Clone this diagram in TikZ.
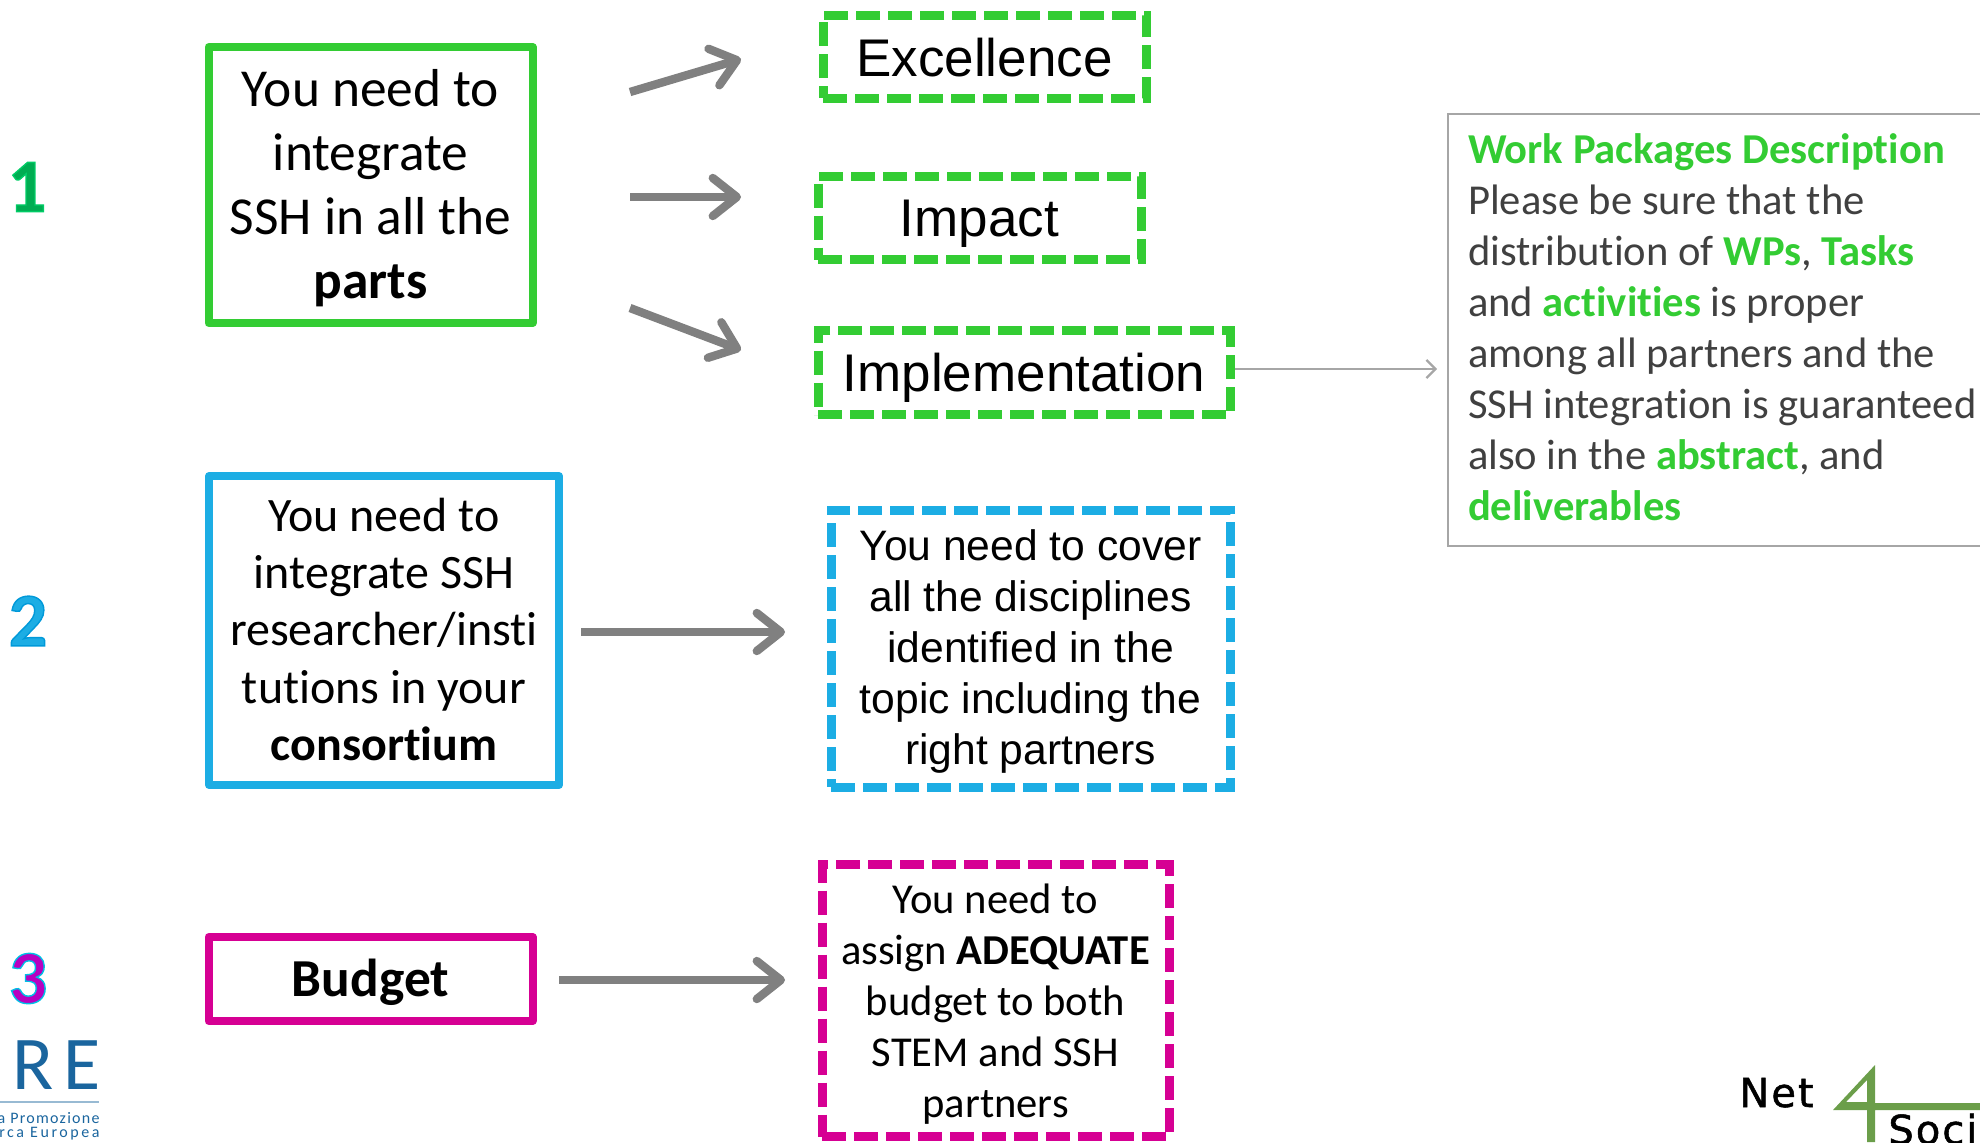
\documentclass[tikz,border=0pt]{standalone}
\usepackage{fontspec}
\setmainfont[Ligatures=NoCommon]{Carlito}
\newfontfamily\arialf{Liberation Sans}
\newfontfamily\netf[LetterSpace=5,FakeBold=1.3]{DejaVu Sans}
\newfontfamily\spacedf[LetterSpace=8,Ligatures=NoCommon]{Carlito}
\newfontfamily\spacedg[LetterSpace=16,Ligatures=NoCommon]{Carlito}
\usetikzlibrary{arrows.meta}
\definecolor{cgreen}{HTML}{33CC33}
\definecolor{cblue}{HTML}{1CADE4}
\definecolor{cpink}{HTML}{D60093}
\definecolor{cgrey}{HTML}{808080}
\definecolor{cthin}{HTML}{A6A6A6}
\definecolor{ctext}{HTML}{404040}
\definecolor{clogo}{HTML}{1A659E}
\definecolor{cfour}{HTML}{6B9E4A}
\newcommand{\wpg}[1]{\textcolor{cgreen}{\textbf{#1}}}
\newcommand{\outl}[2]{\special{pdf:code 2 Tr 0.7 w #1 RG}#2\special{pdf:code 0 Tr}}
\newcommand{\topstr}[1]{\rule{0pt}{#1}}
\newcommand{\botstr}[1]{\rule[-#1]{0pt}{#1}}
\tikzset{
 x=0.5pt,y=-0.5pt,
 solidbox/.style={draw=#1,line width=4pt,line join=round,inner sep=0pt,align=center,text=black},
 dashbox/.style={draw=#1,line width=4.5pt,dash pattern=on 12pt off 4pt,inner sep=0pt,align=center,text=black},
 bigt/.style={font=\fontsize{26.7}{32}\selectfont},
 midt/.style={font=\fontsize{24}{28.7}\selectfont},
 smallt/.style={font=\fontsize{21.3}{25.5}\selectfont},
 wpt/.style={font=\fontsize{21.3}{25.5}\selectfont},
 ariall/.style={font=\arialf\fontsize{26.5}{32}\selectfont,text depth=0pt},
 arials/.style={font=\arialf\fontsize{21.3}{25.5}\selectfont},
 bigarrow/.style={draw=cgrey,line width=4.2pt,-{Straight Barb[length=12pt,width=19pt,line width=4.2pt,round]}},
 thinarrow/.style={draw=cthin,line width=1.1pt,-{Straight Barb[length=4.5pt,width=9pt]}},
 numt/.style={font=\bfseries\fontsize{38}{38}\selectfont,inner sep=0pt},
}
\begin{document}
\begin{tikzpicture}
\useasboundingbox (0,0) rectangle (1980,1142);
\clip (0,0) rectangle (1980,1142);
% numbers
\node[numt,text={rgb,1:red,0;green,0.68;blue,0.32}] (n1) at (27,187) {\outl{0 0.8 0.4}{1}};
\node[numt,text=cblue] (n2) at (28,621) {\outl{0 0.6 0.85}{2}};
\node[numt,text={rgb,1:red,0.72;green,0;blue,0.75}] (n3) at (28,978.5) {\outl{0 0.75 0.9}{3}};
% left boxes
\node[solidbox=cgreen,bigt,minimum width=162pt,minimum height=138pt] (b1) at (370.5,185)
 {\topstr{21.5pt}You need to\\integrate\\SSH in all the\\\textbf{parts}};
\node[solidbox=cblue,midt,minimum width=175pt,minimum height=154.5pt] (b2) at (384,630.5)
 {You need to\\integrate SSH\\researcher/insti\\tutions in your\\\textbf{consortium}\botstr{1.3pt}};
\node[solidbox=cpink,bigt,minimum width=162pt,minimum height=42pt] (b3) at (370.5,979)
 {\topstr{22.5pt}\textbf{Budget}};
% right dashed boxes
\node[dashbox=cgreen,ariall,minimum width=161.5pt,minimum height=41.5pt] (exc) at (984.5,56.8) {Excellence};
\node[dashbox=cgreen,ariall,minimum width=161.5pt,minimum height=41.5pt] (imp) at (979.5,218) {Impact};
\node[dashbox=cgreen,ariall,minimum width=206pt,minimum height=42pt] (impl) at (1024,372.5) {Implementation};
\node[dashbox=cblue,arials,minimum width=199.5pt,minimum height=138.5pt] (cov) at (1030.5,648.5)
 {\topstr{18.5pt}You need to cover\\all the disciplines\\identified in the\\topic including the\\right partners};
\node[dashbox=cpink,smallt,minimum width=173.5pt,minimum height=136pt] (adq) at (995.5,1000.5)
 {\topstr{18.7pt}You need to\\assign \textbf{ADEQUATE}\\budget to both\\STEM and SSH\\partners};
% work package box
\node[draw=cthin,line width=1pt,anchor=north west,inner xsep=10pt,inner ysep=0pt,
 minimum height=216pt,text width=300pt,align=flush left,text=ctext,wpt] (wp) at (1447,113)
 {\wpg{Work Packages Description}\\Please be sure that the\\distribution of \wpg{WPs}, \wpg{Tasks}\\and \wpg{activities} is proper\\among all partners and the\\SSH integration is guaranteed\\also in the \wpg{abstract}, and\\\wpg{deliverables}\botstr{3pt}};
% arrows
\coordinate (a1s) at (630,92); \coordinate (a1e) at (741,59);
\coordinate (a2s) at (630,197); \coordinate (a2e) at (741,197);
\coordinate (a3s) at (630,308); \coordinate (a3e) at (741,350);
\coordinate (a4s) at (581,632); \coordinate (a4e) at (785,632);
\coordinate (a5s) at (559,980); \coordinate (a5e) at (785,980);
\draw[bigarrow] (a1s) -- (a1e);
\draw[bigarrow] (a2s) -- (a2e);
\draw[bigarrow] (a3s) -- (a3e);
\draw[bigarrow] (a4s) -- (a4e);
\draw[bigarrow] (a5s) -- (a5e);
\coordinate (a6e) at (1437,369);
\draw[thinarrow] (impl.east |- a6e) -- (a6e);
% logos
\node[text=clogo,anchor=base east,inner sep=0pt,font=\fontsize{38}{38}\selectfont] (re) at (101,1089) {R\hspace{5pt}E};
\draw[draw=clogo!45,line width=1pt] (0,1102) -- (99,1102);
\node[text=clogo,anchor=east,inner sep=0pt,font=\spacedf\fontsize{8}{8}\selectfont] (apa) at (100,1118) {a Promozione};
\node[text=clogo,anchor=east,inner sep=0pt,font=\spacedg\fontsize{8}{8}\selectfont] (apb) at (100,1134) {rca Europea};
\node[anchor=base west,inner sep=0pt,font=\netf\fontsize{20}{20}\selectfont] (net) at (1739,1107) {Net};
\fill[cfour,even odd rule] (1875,1065) -- (1875,1103) -- (1980,1103) -- (1980,1110) -- (1875,1110) -- (1875,1142) -- (1867,1142) -- (1867,1110) -- (1833,1110) -- cycle
 (1867,1080) -- (1867,1102) -- (1846,1102) -- cycle;
\node[anchor=base west,inner sep=0pt,font=\netf\fontsize{20}{20}\selectfont] (soc) at (1888,1144) {Socie};
\end{tikzpicture}
\end{document}
